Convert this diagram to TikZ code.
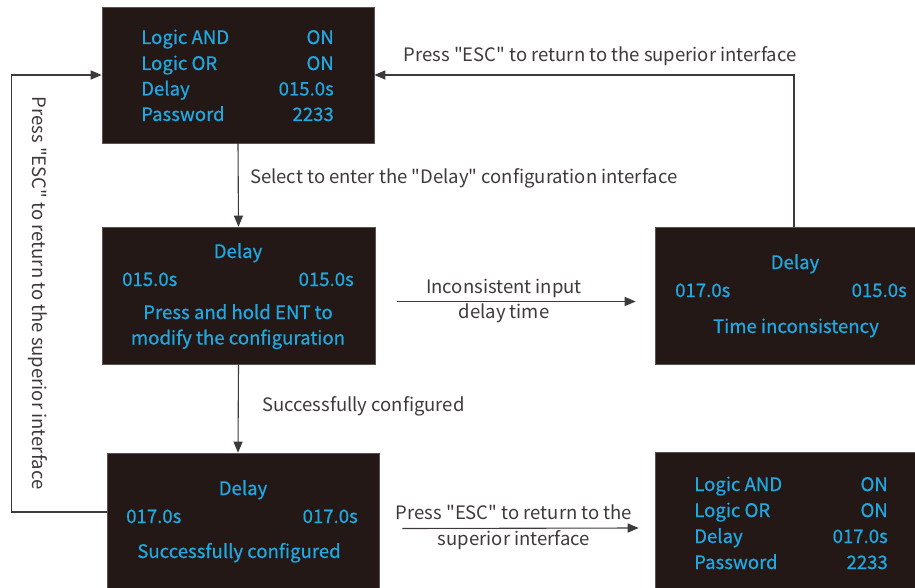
\documentclass[tikz,border=0pt]{standalone}
\usepackage{fontspec}
\setmainfont{Noto Sans CJK SC}[Ligatures=TeXOff]
\newfontfamily\lcdfont{Noto Sans CJK SC}[Ligatures=TeXOff, FakeBold=0.6]
\usetikzlibrary{arrows.meta}
\definecolor{panel}{HTML}{231815}
\definecolor{lcd}{HTML}{1FA8E1}
\definecolor{ink}{HTML}{3E3A39}
\begin{document}
\begin{tikzpicture}[x=1pt,y=-1pt,
  panelbox/.style={fill=panel, draw=panel!75!white, line width=0.6pt, inner sep=0pt},
  lcdtxt/.style={text=lcd, font=\lcdfont\fontsize{18.6}{22}\selectfont, inner sep=0pt},
  note/.style={text=ink, font=\fontsize{18.5}{21}\selectfont, inner sep=0pt},
  link/.style={draw=ink, line width=1.1pt, -{Triangle[length=11pt,width=9pt]}}]
\useasboundingbox (0,0) rectangle (915,588);

% display panels
\node[panelbox, minimum width=272pt, minimum height=136pt] (b1) at (238,75) {};
\node[panelbox, minimum width=273pt, minimum height=137pt] (b2) at (238.5,295.5) {};
\node[panelbox, minimum width=278pt, minimum height=137pt] (b3) at (794,295.5) {};
\node[panelbox, minimum width=272pt, minimum height=147pt] (b4) at (243,526.5) {};
\node[panelbox, minimum width=278pt, minimum height=148pt] (b5) at (794,526) {};

% main menu
\node[lcdtxt, anchor=base west] (m1a) at (141,44) {Logic AND};
\node[lcdtxt, anchor=base east] (m1b) at (334,44) {ON};
\node[lcdtxt, anchor=base west] (m2a) at (141,70) {Logic OR};
\node[lcdtxt, anchor=base east] (m2b) at (334,70) {ON};
\node[lcdtxt, anchor=base west] (m3a) at (141,95.5) {Delay};
\node[lcdtxt, anchor=base east] (m3b) at (334,95.5) {015.0s};
\node[lcdtxt, anchor=base west] (m4a) at (141,121) {Password};
\node[lcdtxt, anchor=base east] (m4b) at (334,121) {2233};

% delay setting
\node[lcdtxt, anchor=base] (d1) at (238,258) {Delay};
\node[lcdtxt, anchor=base west] (d2) at (122,286) {015.0s};
\node[lcdtxt, anchor=base east] (d3) at (354,286) {015.0s};
\node[lcdtxt, anchor=base] (d4) at (238,319) {Press and hold ENT to};
\node[lcdtxt, anchor=base] (d5) at (238,344.5) {modify the configuration};

% mismatch
\node[lcdtxt, anchor=base] (e1) at (795,269) {Delay};
\node[lcdtxt, anchor=base west] (e2) at (675,297) {017.0s};
\node[lcdtxt, anchor=base east] (e3) at (907,297) {015.0s};
\node[lcdtxt, anchor=base] (e4) at (796,333) {Time inconsistency};

% saved
\node[lcdtxt, anchor=base] (s1) at (243,495) {Delay};
\node[lcdtxt, anchor=base west] (s2) at (126,523) {017.0s};
\node[lcdtxt, anchor=base east] (s3) at (358,523) {017.0s};
\node[lcdtxt, anchor=base] (s4) at (239,558) {Successfully configured};

% main menu after saving
\node[lcdtxt, anchor=base west] (n1a) at (694,491) {Logic AND};
\node[lcdtxt, anchor=base east] (n1b) at (888,491) {ON};
\node[lcdtxt, anchor=base west] (n2a) at (694,517) {Logic OR};
\node[lcdtxt, anchor=base east] (n2b) at (888,517) {ON};
\node[lcdtxt, anchor=base west] (n3a) at (694,543) {Delay};
\node[lcdtxt, anchor=base east] (n3b) at (888,543) {017.0s};
\node[lcdtxt, anchor=base west] (n4a) at (694,569) {Password};
\node[lcdtxt, anchor=base east] (n4b) at (888,569) {2233};

% transitions
\draw[link] (b1.south) -- (b2.north);
\node[note, anchor=base west] (t1) at (250,184) {Select to enter the "Delay" configuration interface};

\draw[link] (b2.south) -- ([xshift=-5pt]b4.north);
\node[note, anchor=base west] (t2) at (262,411) {Successfully configured};

\coordinate (c1) at ([xshift=22pt,yshift=-6pt]b2.east);
\coordinate (c2) at ([xshift=-19pt,yshift=-6pt]b3.west);
\draw[link] (c1) -- (c2);
\node[note, anchor=base] (t3) at (504,293) {Inconsistent input};
\node[note, anchor=base] (t4) at (504,318.5) {delay time};

\coordinate (c3) at ([xshift=23pt,yshift=-2pt]b4.east);
\coordinate (c4) at ([xshift=-16pt,yshift=-2pt]b5.west);
\draw[link] (c3) -- (c4);
\node[note, anchor=base] (t5) at (514,519) {Press "ESC" to return to the};
\node[note, anchor=base] (t6) at (514,545) {superior interface};

\draw[link] (b3.north) |- (b1.east);
\node[note, anchor=base] (t7) at (600,62) {Press "ESC" to return to the superior interface};

\draw[link] ([yshift=14.5pt]b4.west) -- ++(-95,0) |- (b1.west);
\node[note, anchor=center, rotate=-90] (t8) at (38,293) {Press "ESC" to return to the superior interface};
\end{tikzpicture}
\end{document}
